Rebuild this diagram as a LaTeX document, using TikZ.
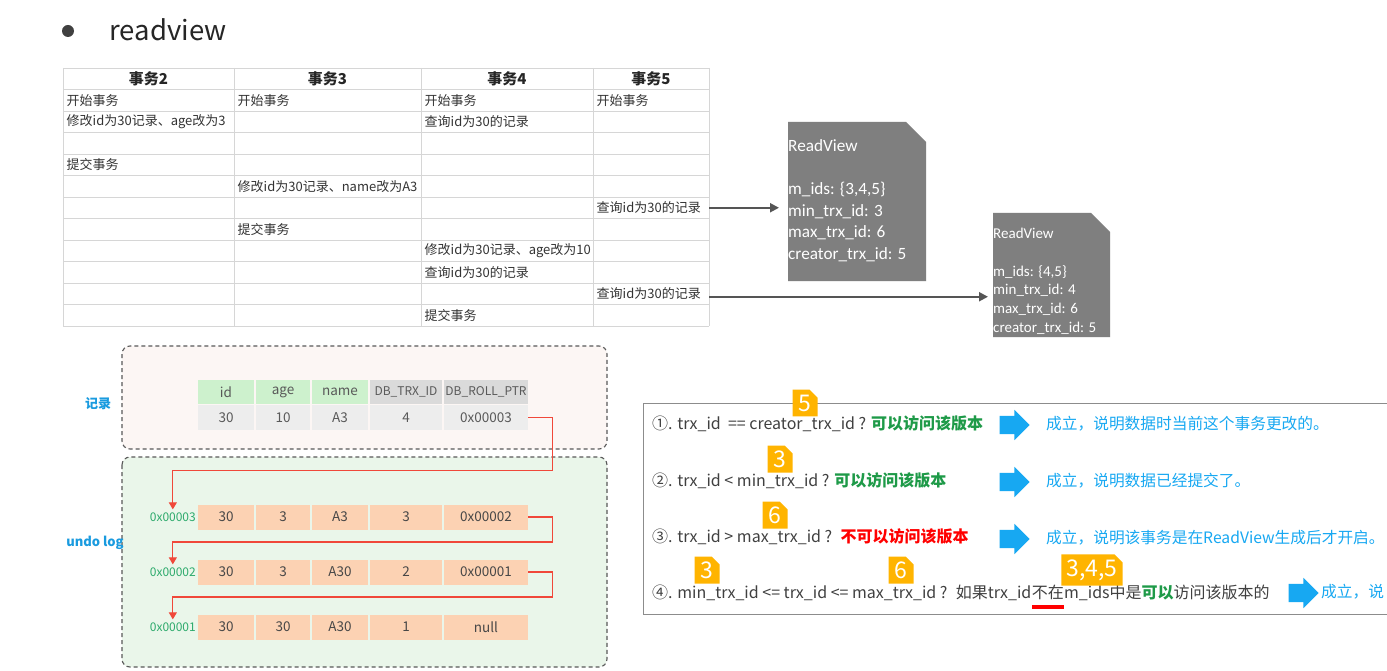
\documentclass[tikz,border=0pt]{standalone}
\usepackage{fontspec}
\setmainfont{Noto Sans CJK SC}
\newfontfamily\rvfont{Carlito}
\usepackage{xcolor}
\usetikzlibrary{positioning, arrows.meta, shapes.misc, shapes.arrows}
\definecolor{gridgray}{HTML}{D6D6D6}
\definecolor{rvgray}{HTML}{7F7F7F}
\definecolor{arrowgray}{HTML}{555555}
\definecolor{recbg}{HTML}{FCF6F4}
\definecolor{undobg}{HTML}{EAF6EA}
\definecolor{hdrgreen}{HTML}{CDF1CD}
\definecolor{hdrgray}{HTML}{DADADA}
\definecolor{rowgray}{HTML}{EDEDED}
\definecolor{peach}{HTML}{FCD2B3}
\definecolor{ptrred}{HTML}{F0483A}
\definecolor{addrgreen}{HTML}{2DAA6C}
\definecolor{labelblue}{HTML}{1A9BDF}
\definecolor{okgreen}{HTML}{1E9A48}
\definecolor{badge}{HTML}{FFB400}
\definecolor{skyblue}{HTML}{17A8F2}
\newcommand{\fs}[1]{\fontsize{#1}{#1}\selectfont}

\begin{document}
\begin{tikzpicture}[x=1pt, y=-1pt,
  hdr/.style={font=\bfseries\fs{15}, text=black!85},
  cell/.style={anchor=west, inner sep=0pt, font=\fs{13}, text=black!80},
  rvshape/.style={anchor=north west, inner sep=0pt, outer sep=0pt},
  rvtext/.style={anchor=north west, inner sep=0pt, align=left, text=white},
  rvarrow/.style={arrowgray, line width=2pt, -{Triangle[length=9pt, width=9pt]}},
  areabox/.style={draw=black!65, dash pattern=on 4pt off 3pt, line width=1.1pt, rounded corners=8pt},
  rechead/.style={minimum height=24pt, inner sep=0pt, font=\fs{13.5}, text=black!65},
  undocell/.style={fill=peach, minimum height=25pt, inner sep=0pt, font=\fs{13.5}, text=black!72},
  addr/.style={anchor=east, inner sep=0pt, font=\fs{12}, text=addrgreen},
  ptr/.style={ptrred, line width=1.1pt, -{Triangle[length=7pt, width=8pt]}},
  sidelabel/.style={font=\bfseries\fs{13}, text=labelblue},
  rule/.style={anchor=west, inner sep=0pt, font=\fs{16}, text=black!75},
  okline/.style={anchor=west, inner sep=0pt, font=\fs{15.7}, text=skyblue},
  badgebox/.style={chamfered rectangle, chamfered rectangle corners=north east,
    chamfered rectangle xsep=4pt, chamfered rectangle ysep=4pt, fill=badge,
    minimum height=26pt, minimum width=25pt, inner sep=1pt, font=\fs{23}, text=white},
  bluearrow/.style={single arrow, fill=skyblue, inner sep=9pt, minimum height=30pt,
    single arrow head extend=6pt}]
\clip (0,0) rectangle (1387,671);
\fill[white] (0,0) rectangle (1387,671);

\node[circle, fill=black!75, minimum size=12pt, inner sep=0pt] (dot) at (68,31) {};
\node[anchor=west, font=\fs{27.5}, text=black!85] (title) at (106,30) {readview};

\foreach \y in {68,89.5,111,132.5,154,175.5,197,218.5,240,261.5,283,304.5,326}
  \draw[gridgray] (63,\y) -- (709,\y);
\foreach \x in {63,234,421,593,709}
  \draw[gridgray] (\x,68) -- (\x,326);
\coordinate (tabr) at (709,68);
\foreach \i/\x in {2/148.5,3/327.5,4/507,5/651}
  \node[hdr] (h\i) at (\x,78.5) {事务\i};
\foreach \r/\c/\t in {1/1/开始事务, 1/2/开始事务, 1/3/开始事务, 1/4/开始事务,
    2/1/修改id为30记录、age改为3, 2/3/查询id为30的记录, 4/1/提交事务,
    5/2/修改id为30记录、name改为A3, 6/4/查询id为30的记录, 7/2/提交事务,
    8/3/修改id为30记录、age改为10, 9/3/查询id为30的记录, 10/4/查询id为30的记录,
    11/3/提交事务} {
  \pgfmathsetmacro{\cx}{{63,234,421,593}[\c-1]+3.5}
  \node[cell] (c\r-\c) at (\cx,89.5+21.5*\r-10.75) {\t};
}

\node[rvshape, minimum width=138pt, minimum height=159pt] (rv1) at (788,122) {};
\fill[rvgray] (rv1.north west) -- ([xshift=-20pt]rv1.north east) -- ([yshift=-20pt]rv1.north east)
  -- (rv1.south east) -- (rv1.south west) -- cycle;
\node[rvtext, font=\rvfont\fontsize{17.2}{21.7}\selectfont] (rv1t) at (788,139)
  {ReadView\\[21.7pt] m\_ids: \{3,4,5\}\\ min\_trx\_id: 3\\ max\_trx\_id: 6\\ creator\_trx\_id: 5};
\node[rvshape, minimum width=117pt, minimum height=124pt] (rv2) at (993,213) {};
\fill[rvgray] (rv2.north west) -- ([xshift=-19pt]rv2.north east) -- ([yshift=-19pt]rv2.north east)
  -- (rv2.south east) -- (rv2.south west) -- cycle;
\node[rvtext, font=\rvfont\fontsize{15}{18.7}\selectfont] (rv2t) at (993,228)
  {ReadView\\[18.7pt] m\_ids: \{4,5\}\\ min\_trx\_id: 4\\ max\_trx\_id: 6\\ creator\_trx\_id: 5};
\draw[rvarrow, shorten >=9pt] (c6-4.east -| tabr) -- (c6-4.east -| rv1.west);
\draw[rvarrow, shorten >=5pt] ([yshift=-3pt]c10-4.east -| tabr) -- ([yshift=-3pt]c10-4.east -| rv2.west);

\filldraw[areabox, fill=recbg] (122,346) rectangle (607,449);
\filldraw[areabox, fill=undobg] (122,457) rectangle (607,667);
\node[sidelabel] (reclabel) at (98,404) {记录};
\node[sidelabel] (undolabel) at (95,543) {undo log};

\foreach \x/\w/\t [count=\c] in {226/56/id, 283/54/age, 340/56/name}
  \node[rechead, fill=hdrgreen, minimum width=\w pt] (rh\c) at (\x,392) {\t};
\foreach \x/\w/\t/\c in {406/72/DB\_TRX\_ID/4, 486/84/DB\_ROLL\_PTR/5}
  \node[rechead, fill=hdrgray, minimum width=\w pt, font=\fs{12}] (rh\c) at (\x,392) {\t};
\foreach \x/\w/\t [count=\c] in {226/56/30, 283/54/10, 340/56/A3, 406/72/4, 486/84/0x00003}
  \node[rechead, fill=rowgray, minimum height=25pt, minimum width=\w pt] (rd\c) at (\x,417.5) {\t};

\foreach \r/\y/\ad/\va/\vb/\vc/\vd/\ve in {1/517/0x00003/30/3/A3/3/0x00002,
    2/572/0x00002/30/3/A30/2/0x00001, 3/627/0x00001/30/30/A30/1/null} {
  \node[addr] (a\r) at (196,\y) {\ad};
  \foreach \x/\w/\t [count=\c] in {226/56/\va, 283/54/\vb, 340/56/\vc, 406/72/\vd, 486/84/\ve}
    \node[undocell, minimum width=\w pt] (u\r-\c) at (\x,\y) {\t};
}
\draw[ptr] (rd5.east) -- ++(24,0) -- ++(0,53) -| ([yshift=3pt]a1.north);
\draw[ptr] (u1-5.east) -- ++(24,0) -- ++(0,25) -| ([yshift=3pt]a2.north);
\draw[ptr] (u2-5.east) -- ++(24,0) -- ++(0,25) -| ([yshift=3pt]a3.north);

\draw[black!45, line width=1pt] (1387,403) -- (643,403) -- (643,614) -- (1387,614);
\node[rule] (r1) at (652,424) {①. trx\_id \ == creator\_trx\_id ? \textcolor{okgreen}{\bfseries 可以访问该版本}};
\node[rule] (r2) at (652,481) {②. trx\_id < min\_trx\_id ? \textcolor{okgreen}{\bfseries 可以访问该版本}};
\node[rule] (r3) at (652,537) {③. trx\_id > max\_trx\_id ? \ \textcolor{red}{\bfseries 不可以访问该版本}};
\node[rule] (r4a) at (652,593) {④. min\_trx\_id <= trx\_id <= max\_trx\_id ? \ 如果trx\_id};
\node[rule, anchor=base west] (r4b) at (r4a.base east) {不在};
\node[rule, anchor=base west] (r4c) at (r4b.base east) {m\_ids中是\textcolor{okgreen}{\bfseries 可以}访问该版本的};
\fill[red] ([yshift=-5pt]r4b.south west) rectangle ([yshift=-9pt]r4b.south east);

\node[bluearrow] (ar1) at (1010,425) {};
\node[bluearrow] (ar2) at (1010,482) {};
\node[bluearrow] (ar3) at (1010,539) {};
\node[bluearrow] (ar4) at (1299,593) {};
\node[okline] (ok1) at (1046,424) {成立，说明数据时当前这个事务更改的。};
\node[okline] (ok2) at (1046,481) {成立，说明数据已经提交了。};
\node[okline] (ok3) at (1046,538) {成立，说明该事务是在ReadView生成后才开启。};
\node[okline] (ok4) at (1321,592) {成立，说};

\node[badgebox] (b1) at (805,403) {5};
\node[badgebox] (b2) at (780,459) {3};
\node[badgebox] (b3) at (775,515) {6};
\node[badgebox] (b4) at (707,570) {3};
\node[badgebox] (b5) at (901,570) {6};
\node[badgebox] (b6) at (1092,570) {3,4,5};
\end{tikzpicture}
\end{document}
